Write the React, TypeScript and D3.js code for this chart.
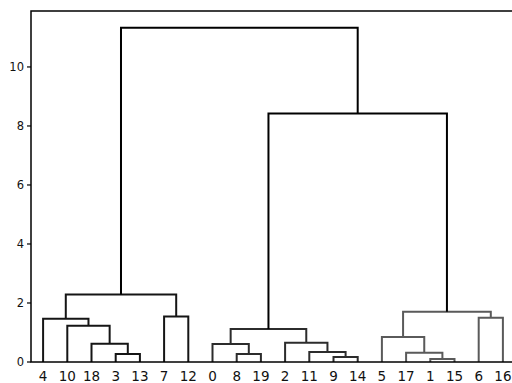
import { useMemo } from "react";
import * as d3 from "d3";

// leaf labels in the order they appear along the x axis
const leafOrder = [4, 10, 18, 3, 13, 7, 12, 0, 8, 19, 2, 11, 9, 14, 5, 17, 1, 15, 6, 16];

// scipy style linkage: [left, right, height]; merge i gets id 20 + i
const linkage: [number, number, number][] = [
  [1, 15, 0.1],
  [9, 14, 0.17],
  [8, 19, 0.27],
  [3, 13, 0.27],
  [17, 20, 0.31],
  [11, 21, 0.34],
  [0, 22, 0.61],
  [18, 23, 0.62],
  [2, 25, 0.65],
  [5, 24, 0.85],
  [26, 28, 1.12],
  [10, 27, 1.23],
  [4, 31, 1.47],
  [6, 16, 1.5],
  [7, 12, 1.54],
  [29, 33, 1.7],
  [32, 34, 2.29],
  [30, 35, 8.42],
  [36, 37, 11.33],
];

// cluster roots and the grey they are drawn in
const clusterRoots = [36, 30, 35];
const clusterColors = ["#151515", "#2c2c2c", "#5a5a5a"];
const aboveColor = "#000";

const yTicks = [0, 2, 4, 6, 8, 10];

const W = 512;
const H = 383;
const left = 31;
const right = 515;
const top = 11;
const bottom = 362;

export default function App() {
  const n = leafOrder.length;
  const x = d3.scaleLinear().domain([0, n * 10]).range([left, right]);
  const maxH = d3.max(linkage, (d) => d[2]) as number;
  const y = d3.scaleLinear().domain([0, maxH * 1.05]).range([bottom, top]);

  const links = useMemo(() => {
    const pos = new Map<number, { cx: number; h: number }>();
    leafOrder.forEach((leaf, i) => pos.set(leaf, { cx: i * 10 + 5, h: 0 }));
    // colour for every merge: inherit from cluster root
    const color = new Map<number, string>();
    const paint = (id: number, c: string) => {
      if (id < n) return;
      color.set(id, c);
      const [a, b] = linkage[id - n];
      paint(a, c);
      paint(b, c);
    };
    clusterRoots.forEach((r, i) => paint(r, clusterColors[i]));
    return linkage.map(([a, b, h], i) => {
      const pa = pos.get(a)!;
      const pb = pos.get(b)!;
      const id = n + i;
      pos.set(id, { cx: (pa.cx + pb.cx) / 2, h });
      const p = d3.path();
      p.moveTo(x(pa.cx), y(pa.h));
      p.lineTo(x(pa.cx), y(h));
      p.lineTo(x(pb.cx), y(h));
      p.lineTo(x(pb.cx), y(pb.h));
      return { d: p.toString(), c: color.get(id) ?? aboveColor };
    });
  }, []);

  return (
    <svg
      width={W}
      height={H}
      style={{ position: "fixed", left: 0, top: 0, background: "#fff" }}
      fontFamily="DejaVu Sans, sans-serif"
    >
      {links.map((l, i) => (
        <path key={i} d={l.d} fill="none" stroke={l.c} strokeWidth={2} />
      ))}
      <rect
        x={left}
        y={top}
        width={right - left}
        height={bottom - top}
        fill="none"
        stroke="#000"
        strokeWidth={1.5}
      />
      {yTicks.map((t) => (
        <g key={t} transform={`translate(0,${y(t)})`}>
          <line x1={left - 4} x2={left} stroke="#000" strokeWidth={1.2} />
          <text x={left - 7} dy="0.35em" textAnchor="end" fontSize={11.5} fill="#111">
            {t}
          </text>
        </g>
      ))}
      {leafOrder.map((leaf, i) => (
        <text
          key={leaf}
          x={x(i * 10 + 5)}
          y={381}
          textAnchor="middle"
          fontSize={13.5}
          fill="#111"
        >
          {leaf}
        </text>
      ))}
    </svg>
  );
}
